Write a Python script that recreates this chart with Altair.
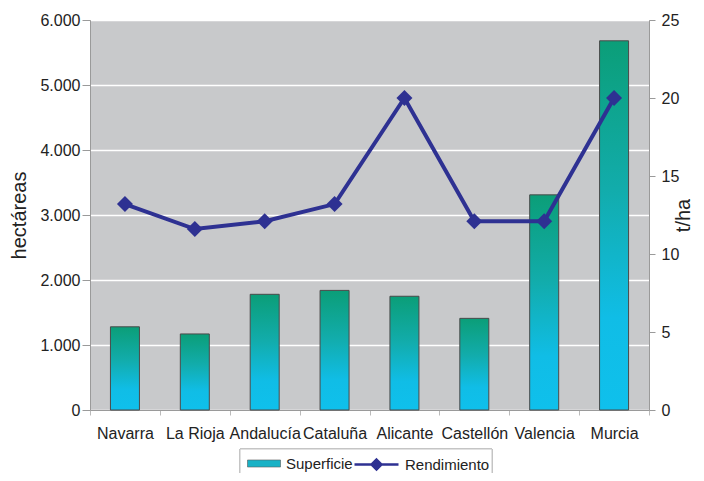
import altair as alt
import pandas as pd

regions = ["Navarra", "La Rioja", "Andalucía", "Cataluña", "Alicante", "Castellón", "Valencia", "Murcia"]
superficie = [1280, 1170, 1780, 1840, 1750, 1410, 3310, 5680]
rendimiento = [13.2, 11.6, 12.1, 13.2, 20.0, 12.1, 12.1, 20.0]
left_ticks = [0, 1000, 2000, 3000, 4000, 5000, 6000]
right_ticks = [0, 5, 10, 15, 20, 25]

df = pd.DataFrame({"region": regions, "superficie": superficie, "rendimiento": rendimiento})

FONT = "Liberation Sans"
NAVY = "#2e3192"
GRID_GRAY = "#9a9a9a"

x_enc = alt.X(
    "region:N", sort=regions, title=None,
    scale=alt.Scale(paddingInner=0, paddingOuter=0),
    axis=alt.Axis(labelAngle=0, labelFontSize=16, labelColor="#222", tickBand="extent",
                  domainColor=GRID_GRAY, tickColor="#bbbbbb", tickSize=5, labelPadding=10,
                  grid=False, labelFont=FONT),
)

y_left = alt.Y(
    "superficie:Q",
    scale=alt.Scale(domain=[0, 6000], nice=False),
    axis=alt.Axis(values=left_ticks,
                  labelExpr="replace(format(datum.value, ','), ',', '.')",
                  title="hectáreas", titleFontSize=20, titleFontWeight="normal", titleColor="#222",
                  titlePadding=10, labelFontSize=16, labelColor="#222", labelPadding=2,
                  tickSize=8, tickColor=GRID_GRAY, domainColor=GRID_GRAY,
                  grid=True, gridColor="white", gridWidth=1.3, labelFont=FONT, titleFont=FONT),
)

grad = alt.Gradient(
    gradient="linear",
    stops=[alt.GradientStop(color="#0b9e78", offset=0),
           alt.GradientStop(color="#12acab", offset=0.4),
           alt.GradientStop(color="#10bde6", offset=0.75),
           alt.GradientStop(color="#0fc0ec", offset=1)],
    x1=0, x2=0, y1=0, y2=1,
)

bars = alt.Chart(df).mark_bar(fill=grad, stroke="#4a4a4a", strokeWidth=1, size=29).encode(
    x=x_enc, y=y_left
)

legend_bar = alt.Chart(df).transform_calculate(serie="'Superficie'").transform_filter("false").mark_bar().encode(
    x=x_enc, y=y_left,
    fill=alt.Fill("serie:N", scale=alt.Scale(domain=["Superficie"], range=["#19b2c6"]),
                  legend=alt.Legend(title=None, orient="none", legendX=157, legendY=432,
                                    symbolType="M-1,-0.32H2V0.32H-1Z", symbolSize=484,
                                    symbolStrokeColor="#5a5a5a", symbolStrokeWidth=0.6,
                                    labelFontSize=15, labelColor="#222", labelOffset=16,
                                    labelFont=FONT, padding=0)),
)

y_right = alt.Y(
    "rendimiento:Q",
    scale=alt.Scale(domain=[0, 25], nice=False),
    axis=alt.Axis(orient="right", values=right_ticks, title="t/ha", titleAngle=270,
                  titleFontSize=20, titleFontWeight="normal", titleColor="#222", titlePadding=15,
                  labelFontSize=16, labelColor="#222", labelPadding=6, tickSize=6,
                  tickColor=GRID_GRAY, domainColor=GRID_GRAY, grid=False,
                  labelFont=FONT, titleFont=FONT),
)

line = alt.Chart(df).transform_calculate(serie="'Rendimiento'").mark_line(strokeWidth=4).encode(
    x=x_enc, y=y_right,
    stroke=alt.Stroke("serie:N", scale=alt.Scale(domain=["Rendimiento"], range=[NAVY]),
                      legend=alt.Legend(title=None, orient="none", legendX=263, legendY=432,
                                        symbolType="M-1,0H3M1,-0.45L1.45,0L1,0.45L0.55,0Z",
                                        symbolSize=484, symbolFillColor=NAVY, symbolStrokeWidth=2.5,
                                        labelFontSize=15, labelColor="#222", labelOffset=27,
                                        labelFont=FONT, padding=0)),
)

points = alt.Chart(df).mark_point(shape="diamond", filled=True, size=256, color=NAVY, opacity=1).encode(
    x=x_enc, y=y_right
)

frame = alt.Chart(df).mark_rect(fill="white", stroke="#c4c4c4", strokeWidth=1).encode(
    x=alt.value(150), x2=alt.value(402), y=alt.value(429), y2=alt.value(478)
)

left = alt.layer(bars, legend_bar)
right = alt.layer(line, points)

chart = alt.layer(frame, left, right).resolve_scale(y="independent", fill="independent", stroke="independent").properties(
    width=559, height=390,
    autosize=alt.AutoSizeParams(type="none"),
    padding={"left": 82, "top": 12, "right": 47, "bottom": 63},
).configure(font=FONT, background="white").configure_view(fill="#c8c9cb", stroke="#a8a8a8")

chart.save("out.html", embed_options={"renderer": "svg", "actions": False})
